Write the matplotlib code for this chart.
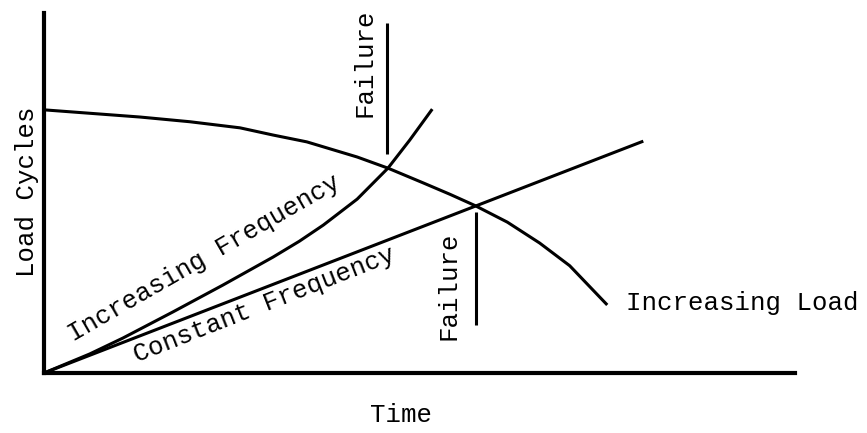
import matplotlib
matplotlib.use("Agg")
from matplotlib import pyplot as plt

# schematic: load cycles vs time (arbitrary units, 0-100)
load_t = [0, 12.8, 19.4, 26.1, 30.5, 35.0, 41.7, 45.8, 50.5, 54.1, 57.4, 61.7, 66.0, 70.0, 75.0]
load_y = [73.1, 71.1, 69.8, 68.1, 66.1, 64.2, 60.0, 56.9, 52.8, 49.6, 46.5, 41.9, 36.1, 29.8, 18.9]

incfreq_t = [0, 6.1, 10.5, 17.2, 23.8, 30.5, 34.0, 37.2, 41.7, 45.8, 48.7, 51.7]
incfreq_y = [0, 5.3, 9.7, 17.0, 24.4, 32.2, 36.6, 41.1, 48.3, 56.9, 64.7, 73.3]

constfreq_t = [0, 79.8]
constfreq_y = [0, 64.4]

fail1_t = 45.7
fail1_y = [60.8, 97.2]
fail2_t = 57.5
fail2_y = [13.3, 44.7]

FONT = 'Liberation Mono'
FS = 18.5
LW = 2.2


def main():
  fig = plt.figure(figsize=(8.67, 4.33), dpi=100)
  ax = fig.add_axes([44/867, 60/433, 751/867, 360/433])
  ax.set_xlim(0, 100)
  ax.set_ylim(0, 100)

  style = dict(color='k', lw=LW, solid_capstyle='butt', solid_joinstyle='round')
  ax.plot(load_t, load_y, **style)
  ax.plot(incfreq_t, incfreq_y, **style)
  ax.plot(constfreq_t, constfreq_y, **style)
  ax.plot([fail1_t, fail1_t], fail1_y, **style)
  ax.plot([fail2_t, fail2_t], fail2_y, **style)

  for s in ['top', 'right']:
    ax.spines[s].set_visible(False)
  for s in ['left', 'bottom']:
    ax.spines[s].set_linewidth(3)
  ax.set_xticks([])
  ax.set_yticks([])

  txt = dict(family=FONT, fontsize=FS, color='black')
  ax.text(42.7, 86.1, 'Failure', rotation=90, ha='center', va='center', **txt)
  ax.text(53.8, 24.2, 'Failure', rotation=90, ha='center', va='center', **txt)
  ax.text(77.5, 19.4, 'Increasing Load', ha='left', va='center', **txt)
  ax.text(21.4, 31.9, 'Increasing Frequency', rotation=30, rotation_mode='anchor',
          ha='center', va='center', **txt)
  ax.text(29.4, 18.9, 'Constant Frequency', rotation=21.5, rotation_mode='anchor',
          ha='center', va='center', **txt)

  ax.text(-0.022, 0.503, 'Load Cycles', rotation=90, ha='center', va='center',
          transform=ax.transAxes, **txt)
  ax.text(0.475, -0.117, 'Time', ha='center', va='center',
          transform=ax.transAxes, **txt)

  fig.savefig('out.png', dpi=100, facecolor='white')


if __name__ == "__main__":
  main()
